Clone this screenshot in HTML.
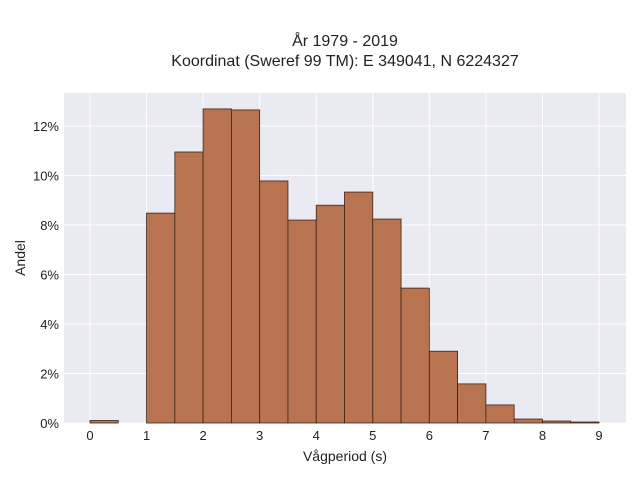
<!DOCTYPE html>
<html><head><meta charset="utf-8"><style>
body{margin:0;background:#fff;font-family:"Liberation Sans",sans-serif}
svg text{font-family:"Liberation Sans",sans-serif;fill:#222}
</style></head><body>
<svg width="640" height="480" id="c">
<text x="345" y="46" text-anchor="middle" font-size="16">År 1979 - 2019</text>
<text x="345" y="66" text-anchor="middle" font-size="16">Koordinat (Sweref 99 TM): E 349041, N 6224327</text>
<rect x="64" y="93" width="562" height="330" fill="#eaeaf2"/>
<g id="grid"></g><g id="bars"></g><g id="ticks"></g>
<text x="345" y="461" text-anchor="middle" font-size="14">Vågperiod (s)</text>
<text x="25" y="258" text-anchor="middle" font-size="14" transform="rotate(-90 25 258)">Andel</text>
</svg>
<script>
const binStarts=[0,1,1.5,2,2.5,3,3.5,4,4.5,5,5.5,6,6.5,7,7.5,8,8.5];
const binValues=[0.1,8.48,10.95,12.69,12.65,9.78,8.2,8.8,9.33,8.24,5.45,2.9,1.58,0.73,0.16,0.08,0.04];
const xTicks=[0,1,2,3,4,5,6,7,8,9];
const yTicks=[0,2,4,6,8,10,12];
const binWidth=0.5;
const NS="http://www.w3.org/2000/svg";
const xs=v=>90+v*(599-90)/9;
const ys=v=>423-v*(423-126)/12;
function mk(t,a,p){const e=document.createElementNS(NS,t);for(const k in a)e.setAttribute(k,a[k]);p.appendChild(e);return e;}
const g=document.getElementById('grid'),b=document.getElementById('bars'),tk=document.getElementById('ticks');
xTicks.forEach(v=>{
 const l=mk('line',{x1:xs(v),x2:xs(v),y1:93,y2:423,stroke:'#fff','stroke-width':1},g);
 
 
 const t=mk('text',{x:xs(v),y:440,'text-anchor':'middle','font-size':13},tk);t.textContent=v;
 
 
});
yTicks.forEach(v=>{
 const l=mk('line',{x1:64,x2:626,y1:ys(v),y2:ys(v),stroke:'#fff','stroke-width':1},g);
 
 
 const t=mk('text',{x:59,y:ys(v)+5,'text-anchor':'end','font-size':13},tk);t.textContent=v+'%';
 
 
});
binStarts.forEach((s,i)=>{
 const r=mk('rect',{x:xs(s),y:ys(binValues[i]),width:xs(s+binWidth)-xs(s),height:ys(0)-ys(binValues[i]),fill:'#b87450',stroke:'#3a2418','stroke-width':0.8},b);
 
 
});
</script>
</body></html>
